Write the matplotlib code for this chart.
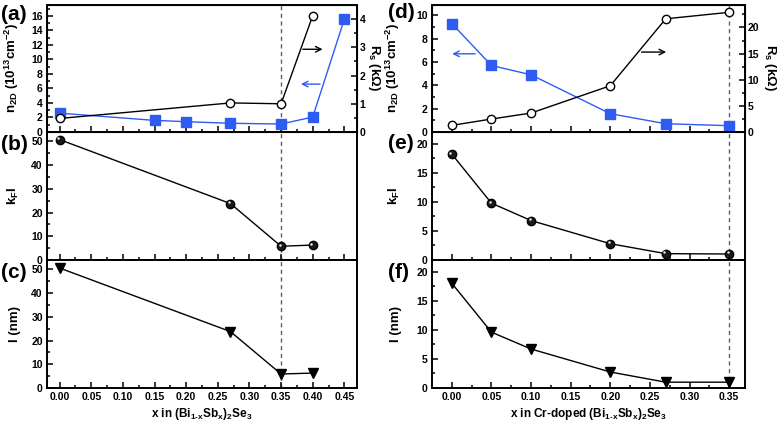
import numpy as np
import matplotlib
matplotlib.use('Agg')
import matplotlib.pyplot as plt
import matplotlib.transforms as mtransforms
from matplotlib.ticker import MultipleLocator, FormatStrFormatter

plt.rcParams['font.family'] = ['Liberation Sans', 'DejaVu Sans']
plt.rcParams['font.weight'] = 'bold'
plt.rcParams['mathtext.fontset'] = 'custom'
plt.rcParams['mathtext.rm'] = 'Liberation Sans:bold'
plt.rcParams['mathtext.it'] = 'Liberation Sans:bold'
plt.rcParams['mathtext.bf'] = 'Liberation Sans:bold'

# left column: (Bi1-xSbx)2Se3
x_n_left = [0.0, 0.15, 0.20, 0.27, 0.35, 0.40, 0.45]
n2d_left = [2.6, 1.6, 1.42, 1.2, 1.1, 2.06, 15.55]
x_left = [0.0, 0.27, 0.35, 0.40]
rs_left = [0.48, 1.03, 1.0, 4.12]
kfl_left = [50.8, 23.8, 5.8, 6.3]
l_left = [50.6, 23.8, 5.9, 6.3]

# right column: Cr-doped (Bi1-xSbx)2Se3
x_right = [0.0, 0.05, 0.10, 0.20, 0.27, 0.35]
n2d_right = [9.31, 5.71, 4.91, 1.57, 0.71, 0.54]
rs_right = [1.27, 2.48, 3.63, 8.85, 21.66, 22.9]
kfl_right = [18.2, 9.77, 6.78, 2.8, 1.09, 1.03]
l_right = [18.0, 9.6, 6.7, 2.75, 1.0, 1.0]

x_crit = 0.35

blue = '#2f5cf0'
dash_col = '#46687e'

fig = plt.figure(figsize=(7.78, 4.26), dpi=100)
W, H = 778.0, 426.0

def make_ax(x0, x1, y0, y1):
    return fig.add_axes([x0 / W, 1 - y1 / H, (x1 - x0) / W, (y1 - y0) / H])

def style(ax, xmaj, xmin, ymaj, ymin, show_x):
    for s in ax.spines.values():
        s.set_linewidth(1.4)
    ax.xaxis.set_major_locator(MultipleLocator(xmaj))
    ax.xaxis.set_minor_locator(MultipleLocator(xmin))
    ax.yaxis.set_major_locator(MultipleLocator(ymaj))
    ax.yaxis.set_minor_locator(MultipleLocator(ymin))
    ax.tick_params(which='both', direction='in', labelsize=7.5, pad=3, width=1.1)
    ax.tick_params(which='major', length=4)
    ax.tick_params(which='minor', length=2)
    ax.xaxis.set_major_formatter(FormatStrFormatter('%.2f'))
    if not show_x:
        ax.tick_params(axis='x', labelbottom=False)

def style_right(ax, ymaj, ymin):
    ax.yaxis.set_major_locator(MultipleLocator(ymaj))
    ax.yaxis.set_minor_locator(MultipleLocator(ymin))
    ax.tick_params(which='both', direction='in', labelsize=7.5, pad=2, width=1.1)
    ax.tick_params(which='major', length=4)
    ax.tick_params(which='minor', length=2)

def ball(ax, x, y):
    ax.plot(x, y, '-', color='black', lw=1.0, marker='o', ms=6,
            mfc='#1a1a1a', mec='black', zorder=3)
    off = mtransforms.ScaledTranslation(-1.1 / 72, 1.1 / 72, fig.dpi_scale_trans)
    ax.plot(x, y, 'o', ms=1.8, color='#e8e8e8', mec='none',
            transform=ax.transData + off, zorder=4)

rows = [(5, 132), (132, 260), (260, 388)]
xlab_left = 'x in (Bi$_{1\\text{-}x}$Sb$_x$)$_2$Se$_3$'
xlab_right = 'x in Cr-doped (Bi$_{1\\text{-}x}$Sb$_x$)$_2$Se$_3$'
n_lab = 'n$_{2D}$ (10$^{13}$cm$^{-2}$)'
rs_lab = 'R$_s$ (kΩ)'

# ---------------- left column ----------------
lx0, lx1 = 47, 357
ax_a = make_ax(lx0, lx1, *rows[0])
ax_b = make_ax(lx0, lx1, *rows[1])
ax_c = make_ax(lx0, lx1, *rows[2])
for ax in (ax_a, ax_b, ax_c):
    ax.set_xlim(-0.02, 0.47)
    ax.axvline(x_crit, color=dash_col, ls=(0, (3, 2.5)), lw=1.0, zorder=1)

ax_a.plot(x_n_left, n2d_left, '-s', color=blue, lw=1.0, ms=6.5, zorder=3)
ax_a.set_ylim(0, 17.5)
style(ax_a, 0.05, 0.025, 2, 1, False)
ax_a.set_ylabel(n_lab, fontsize=9.5, fontweight='bold')
ax_a.yaxis.set_label_coords(-0.085, 0.5)
ax_a2 = ax_a.twinx()
ax_a2.plot(x_left, rs_left, '-o', color='black', lw=1.0, ms=6, mfc='white', zorder=3)
ax_a2.set_ylim(0, 4.5)
style_right(ax_a2, 1, 0.5)
fig.text(374 / W, 1 - 68 / H, rs_lab, fontsize=9.5, fontweight='bold',
         rotation=270, ha='center', va='center')
ax_a.annotate('', xy=(0.42, 11.4), xytext=(0.38, 11.4),
              arrowprops=dict(arrowstyle='->', color='black', lw=1.0))
ax_a.annotate('', xy=(0.377, 6.6), xytext=(0.416, 6.6),
              arrowprops=dict(arrowstyle='->', color=blue, lw=1.0))

ball(ax_b, x_left, kfl_left)
ax_b.set_ylim(0, 54)
style(ax_b, 0.05, 0.025, 10, 5, False)
ax_b.set_ylabel('k$_F$l', fontsize=9.5, fontweight='bold')
ax_b.yaxis.set_label_coords(-0.085, 0.5)

ax_c.plot(x_left, l_left, '-v', color='black', lw=1.0, ms=7, zorder=3)
ax_c.set_ylim(0, 54)
style(ax_c, 0.05, 0.025, 10, 5, True)
ax_c.set_ylabel('l (nm)', fontsize=9.5, fontweight='bold')
ax_c.yaxis.set_label_coords(-0.085, 0.5)
ax_c.set_xlabel(xlab_left, fontsize=8.5, fontweight='bold', labelpad=3)

# ---------------- right column ----------------
rx0, rx1 = 432, 745
ax_d = make_ax(rx0, rx1, *rows[0])
ax_e = make_ax(rx0, rx1, *rows[1])
ax_f = make_ax(rx0, rx1, *rows[2])
for ax in (ax_d, ax_e, ax_f):
    ax.set_xlim(-0.025, 0.37)
    ax.axvline(x_crit, color=dash_col, ls=(0, (3, 2.5)), lw=1.0, zorder=1)

ax_d.plot(x_right, n2d_right, '-s', color=blue, lw=1.0, ms=6.5, zorder=3)
ax_d.set_ylim(0, 10.9)
style(ax_d, 0.05, 0.025, 2, 1, False)
ax_d.set_ylabel(n_lab, fontsize=9.5, fontweight='bold')
ax_d.yaxis.set_label_coords(-0.095, 0.5)
ax_d2 = ax_d.twinx()
ax_d2.plot(x_right, rs_right, '-o', color='black', lw=1.0, ms=6, mfc='white', zorder=3)
ax_d2.set_ylim(0, 24.3)
style_right(ax_d2, 5, 2.5)
fig.text(770 / W, 1 - 68 / H, rs_lab, fontsize=9.5, fontweight='bold',
         rotation=270, ha='center', va='center')
ax_d.annotate('', xy=(-0.003, 6.71), xytext=(0.033, 6.71),
              arrowprops=dict(arrowstyle='->', color=blue, lw=1.0))
ax_d.annotate('', xy=(0.274, 6.86), xytext=(0.236, 6.86),
              arrowprops=dict(arrowstyle='->', color='black', lw=1.0))

ball(ax_e, x_right, kfl_right)
ax_e.set_ylim(0, 22)
style(ax_e, 0.05, 0.025, 5, 2.5, False)
ax_e.set_ylabel('k$_F$l', fontsize=9.5, fontweight='bold')
ax_e.yaxis.set_label_coords(-0.095, 0.5)

ax_f.plot(x_right, l_right, '-v', color='black', lw=1.0, ms=7, zorder=3)
ax_f.set_ylim(0, 22)
style(ax_f, 0.05, 0.025, 5, 2.5, True)
ax_f.set_ylabel('l (nm)', fontsize=9.5, fontweight='bold')
ax_f.yaxis.set_label_coords(-0.095, 0.5)
ax_f.set_xlabel(xlab_right, fontsize=8.5, fontweight='bold', labelpad=3)

# panel letters
for lab, px, py in [('(a)', 1, 15), ('(b)', 1, 145), ('(c)', 1, 272),
                    ('(d)', 388, 13), ('(e)', 388, 143), ('(f)', 388, 273)]:
    fig.text(px / W, 1 - py / H, lab, fontsize=15, fontweight='bold',
             ha='left', va='center')

fig.savefig('out.png', dpi=100)
